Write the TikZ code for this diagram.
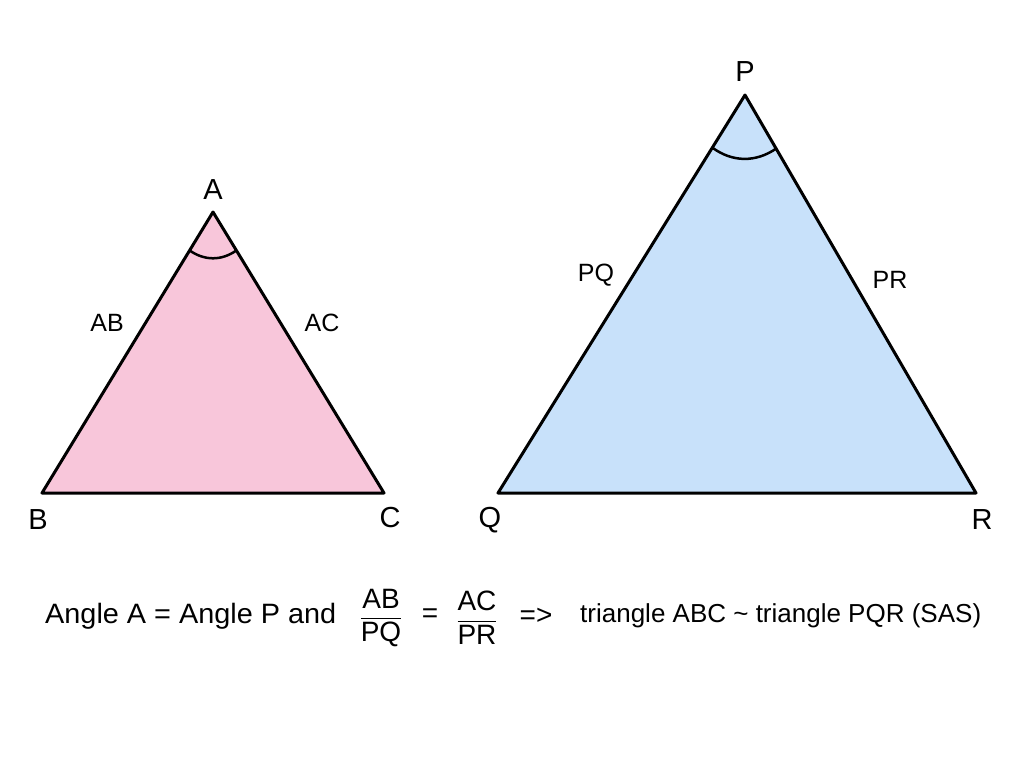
\documentclass[tikz,border=0pt]{standalone}
\usepackage{fontspec}
\setmainfont{Liberation Sans}
\usepackage{amsmath}
\usetikzlibrary{positioning,calc}
\definecolor{pinkfill}{RGB}{248,198,218}
\definecolor{bluefill}{RGB}{200,225,250}
\tikzset{
	lbl/.style={font=\fontsize{29}{32}\selectfont, inner sep=0pt},
	side/.style={font=\fontsize{25}{30}\selectfont, inner sep=0pt},
	stmt/.style={font=\fontsize{28}{32}\selectfont, inner sep=0pt},
	tri/.style={draw=black, line width=3pt, line join=round}
}

\begin{document}
\begin{tikzpicture}[x=1pt, y=-1pt]
				\useasboundingbox (0,0) rectangle (1024,768);
				% Triangle ABC
				\coordinate (A) at (213,212);
				\coordinate (B) at (42,493);
				\coordinate (C) at (384,493);
				\draw[tri, fill=pinkfill] (A) -- (B) -- (C) -- cycle;
				\draw[line width=2.5pt] ($(A)!45pt!(B)$) to[bend right=35] ($(A)!45pt!(C)$);
				\node[lbl] (la) at (213,190) {A};
				\node[lbl] (lb) at (38,520) {B};
				\node[lbl] (lc) at (390,518) {C};
				\node[side] (lab) at (107,323) {AB};
				\node[side] (lac) at (322,323) {AC};

				% Triangle PQR
				\coordinate (P) at (745,95);
				\coordinate (Q) at (498,493);
				\coordinate (R) at (976,493);
				\draw[tri, fill=bluefill] (P) -- (Q) -- (R) -- cycle;
				\draw[line width=2.5pt] ($(P)!62pt!(Q)$) to[bend right=35] ($(P)!62pt!(R)$);
				\node[lbl] (lp) at (745,72) {P};
				\node[lbl] (lq) at (490,520) {Q};
				\node[lbl] (lr) at (982,520) {R};
				\node[side] (lpq) at (596,275) {PQ};
				\node[side] (lpr) at (890,280) {PR};

				% Statement
				\node[stmt, anchor=west, xscale=1.03] (s1) at (45,616) {Angle A = Angle P and};
				\node[stmt] (f1) at (381,618) {$\dfrac{\text{AB}}{\text{PQ}}$};
				\node[stmt] (eq) at (430,616) {=};
				\node[stmt] (f2) at (477,618) {$\dfrac{\text{AC}}{\text{PR}}$};
				\node[stmt] (imp) at (536,616) {=>};
				\node[side, anchor=west, font=\fontsize{26}{30}\selectfont] (s2) at (580,616) {triangle ABC \textasciitilde{} triangle PQR (SAS)};
			\end{tikzpicture}
\end{document}
